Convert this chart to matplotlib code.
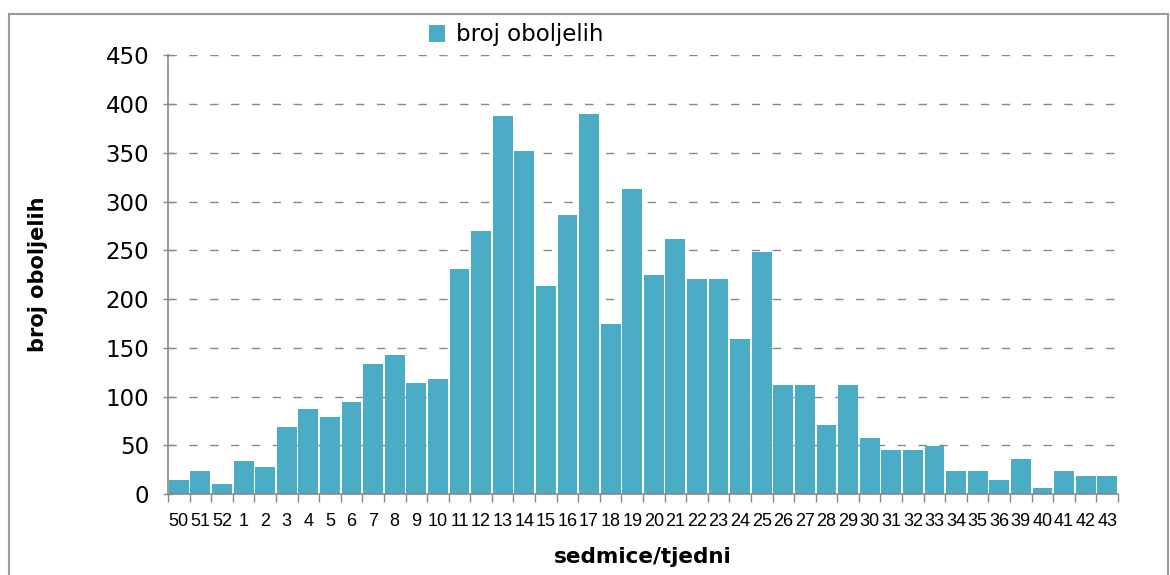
import matplotlib.pyplot as plt
from matplotlib.lines import Line2D

# podaci: broj oboljelih po sedmicama
weeks = ['50', '51', '52'] + [str(w) for w in range(1, 37)] + ['39', '40', '41', '42', '43']
cases = [14, 24, 10, 34, 28, 69, 87, 79, 94, 133,
         143, 114, 118, 231, 270, 388, 352, 213, 286, 390,
         174, 313, 225, 262, 221, 221, 159, 248, 112, 112,
         71, 112, 57, 45, 45, 49, 24, 24, 14, 36,
         6, 24, 18, 18]

bar_color = '#4BACC6'
grey = '#888888'

fig = plt.figure(figsize=(11.7, 5.75), dpi=100)
ax = fig.add_axes([168 / 1170, 1 - 494 / 575, 950 / 1170, (494 - 55.3) / 575])

x = list(range(len(weeks)))
ax.bar(x, cases, width=0.92, color=bar_color, label='broj oboljelih', zorder=3)

ax.set_xlim(-0.5, len(weeks) - 0.5)
ax.set_ylim(0, 450)
ax.set_yticks(range(0, 451, 50))
ax.tick_params(axis='y', direction='inout', length=7, width=1, color=grey,
               labelsize=16.5, pad=10)

# oznake sedmica u sredini, crtice izmedju stupaca
ax.set_xticks(x)
ax.set_xticklabels(weeks, fontfamily='Liberation Sans', fontsize=13)
ax.tick_params(axis='x', which='major', length=0, pad=14)
ax.set_xticks([i - 0.5 for i in range(len(weeks) + 1)], minor=True)
ax.tick_params(axis='x', which='minor', direction='out', length=6, width=1, color=grey)

ax.grid(axis='y', color=grey, linestyle=(0, (6, 9)), linewidth=1, zorder=0)
for s in ['top', 'right']:
    ax.spines[s].set_visible(False)
for s in ['left', 'bottom']:
    ax.spines[s].set_color(grey)
    ax.spines[s].set_linewidth(1.2)
ax.spines['bottom'].set_zorder(4)

ax.set_ylabel('broj oboljelih', fontsize=15, fontweight='bold')
ax.yaxis.set_label_coords(-(168 - 48) / 950, 0.5)
ax.set_xlabel('sedmice/tjedni', fontsize=15.5, fontweight='bold')
ax.xaxis.set_label_coords(0.5, -(547 - 494) / 438.7)

fig.legend(loc='center left', bbox_to_anchor=(429 / 1170, 1 - 35 / 575),
           frameon=False, fontsize=16.5, handlelength=0.7, handleheight=0.7,
           handletextpad=0.5, borderpad=0, borderaxespad=0)

# okvir grafikona
for xs, ys in [([9 / 1170, 9 / 1170], [0, 1 - 14 / 575]),
               ([9 / 1170, 1168 / 1170], [1 - 14 / 575, 1 - 14 / 575]),
               ([1168 / 1170, 1168 / 1170], [0, 1 - 14 / 575])]:
    fig.add_artist(Line2D(xs, ys, transform=fig.transFigure, color='#999999', linewidth=1.5))

fig.savefig('out.png', dpi=100)
